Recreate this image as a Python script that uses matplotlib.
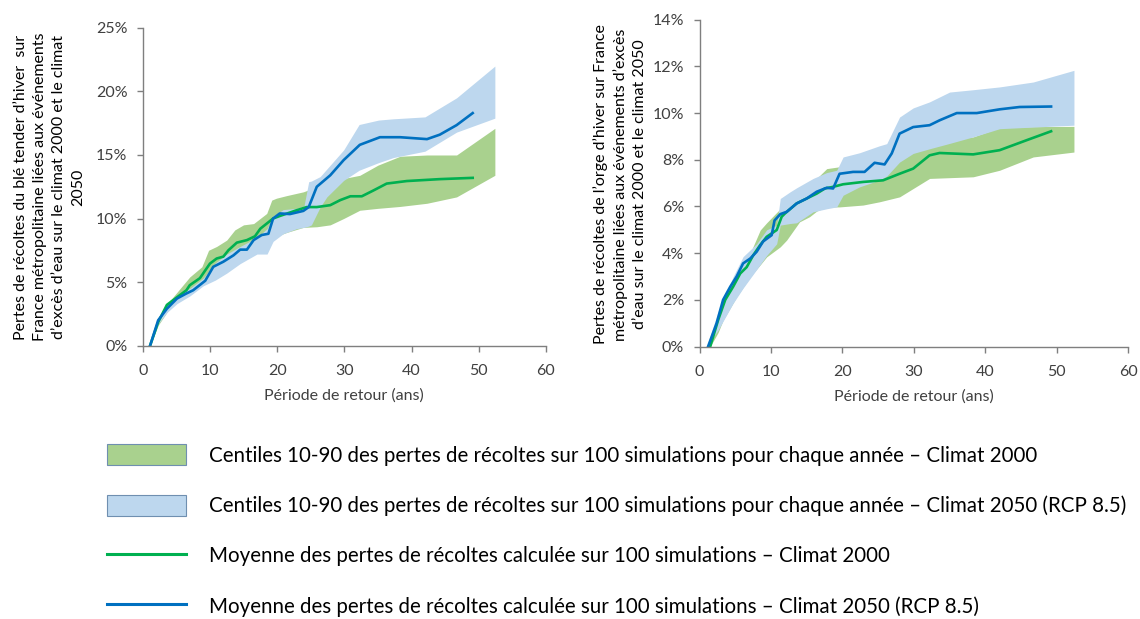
import matplotlib
matplotlib.use("Agg")
import matplotlib.pyplot as plt
from matplotlib.patches import Patch
from matplotlib.lines import Line2D
from matplotlib.ticker import FuncFormatter

plt.rcParams["font.family"] = ["Lato", "DejaVu Sans"]

# ── data: blé tendre d'hiver (left panel) ──────────────────────────────────────
ble_x_2000 = [1.1, 2.3, 3.6, 5.1, 6.5, 7.0, 8.5, 10.0, 11.0, 12.0, 12.75, 14.0, 15.5, 16.7,
              17.5, 18.45, 19.4, 20.4, 22.9, 24.4, 25.9, 27.9, 29.4, 30.9, 32.6, 34.3,
              36.3, 39.3, 44.2, 49.1]
ble_moy_2000 = [0.0, 1.85, 3.2, 3.8, 4.35, 4.75, 5.3, 6.45, 6.85, 7.0, 7.5, 8.1, 8.3, 8.6,
                9.2, 9.6, 10.0, 10.2, 10.65, 10.9, 10.9, 11.05, 11.45, 11.75, 11.75, 12.2,
                12.75, 12.95, 13.1, 13.2]
ble_x_2050 = [1.1, 2.3, 3.6, 5.1, 6.5, 7.5, 9.3, 10.5, 12.0, 13.5, 14.5, 15.5, 16.5, 17.7,
              18.7, 19.4, 20.4, 21.9, 23.9, 24.7, 25.9, 27.9, 29.9, 32.3, 35.3, 38.3,
              42.3, 44.2, 46.7, 49.1]
ble_moy_2050 = [0.0, 1.99, 2.9, 3.7, 4.1, 4.35, 5.1, 6.2, 6.6, 7.1, 7.55, 7.55, 8.3, 8.7,
                8.8, 10.0, 10.4, 10.35, 10.6, 10.9, 12.5, 13.4, 14.6, 15.8, 16.4, 16.4,
                16.25, 16.6, 17.35, 18.3]

ble_band_x_2000 = [1.1, 2.3, 4.1, 7.0, 8.8, 9.8, 11.0, 12.5, 13.7, 15.0, 16.5, 18.45, 19.2,
                   19.9, 21.4, 23.9, 25.9, 27.9, 29.9, 32.3, 35.0, 38.3, 42.3, 46.7, 52.4]
ble_p90_2000 = [0.0, 2.0, 3.56, 5.4, 6.2, 7.5, 7.8, 8.3, 9.1, 9.5, 9.6, 10.4, 11.45,
                11.6, 11.8, 12.1, 12.5, 12.9, 13.15, 13.4, 14.2, 14.9, 15.0, 15.0, 17.1]
ble_p10_2000 = [0.0, 1.6, 3.0, 4.4, 5.0, 5.5, 5.9, 6.2, 6.6, 6.9, 7.3, 8.05, 8.3,
                8.6, 8.9, 9.3, 9.35, 9.5, 10.0, 10.65, 10.8, 10.95, 11.2, 11.7, 13.4]

ble_band_x_2050 = [1.1, 2.3, 3.6, 5.1, 7.0, 9.0, 10.8, 12.5, 14.5, 17.0, 18.5, 19.4, 20.9,
                   22.9, 24.0, 24.7, 25.1, 26.4, 27.4, 29.9, 32.2, 35.1, 37.3, 42.0, 46.7, 52.4]
ble_p90_2050 = [0.0, 2.1, 3.0, 3.9, 4.5, 5.3, 6.5, 7.2, 7.8, 8.5, 9.2, 10.2, 10.7,
                10.8, 11.0, 12.9, 12.95, 13.3, 13.9, 15.4, 17.4, 17.75, 17.85, 18.0, 19.5, 22.0]
ble_p10_2050 = [0.0, 1.7, 2.6, 3.3, 3.9, 4.7, 5.15, 5.7, 6.45, 7.2, 7.2, 8.2, 8.8,
                9.2, 9.3, 9.4, 9.5, 10.9, 11.7, 13.0, 13.8, 14.4, 14.8, 15.3, 16.8, 17.9]

# ── data: orge d'hiver (right panel) ───────────────────────────────────────────
orge_x_2000 = [1.5, 2.6, 3.6, 4.7, 5.7, 6.6, 7.5, 8.5, 9.4, 10.8, 11.5, 11.96, 13.6, 15.0,
               16.4, 17.55, 18.7, 20.1, 22.9, 25.7, 28.0, 29.9, 32.2, 33.6, 38.3, 42.0,
               45.8, 49.2]
orge_moy_2000 = [0.0, 1.13, 2.0, 2.56, 3.13, 3.4, 3.9, 4.35, 4.7, 4.99, 5.56, 5.7, 6.13, 6.34,
                 6.55, 6.77, 6.84, 6.95, 7.05, 7.12, 7.4, 7.62, 8.19, 8.29, 8.23, 8.41,
                 8.84, 9.22]
orge_x_2050 = [1.2, 2.4, 3.3, 4.3, 5.2, 6.1, 7.1, 8.0, 8.9, 10.1, 10.5, 11.3, 12.2, 13.6,
               15.0, 16.4, 17.8, 18.7, 19.6, 21.5, 23.1, 24.5, 25.9, 26.9, 28.0, 29.9,
               32.2, 33.6, 36.0, 38.8, 42.0, 44.8, 49.2]
orge_moy_2050 = [0.0, 1.0, 2.0, 2.56, 3.0, 3.56, 3.77, 4.06, 4.5, 4.77, 5.4, 5.67, 5.77, 6.13,
                 6.34, 6.63, 6.8, 6.77, 7.4, 7.48, 7.48, 7.87, 7.8, 8.27, 9.12, 9.4,
                 9.48, 9.69, 10.0, 10.0, 10.16, 10.26, 10.28]

orge_band_x_2000 = [1.5, 2.6, 3.3, 5.2, 7.1, 8.5, 9.4, 11.3, 12.2, 14.0, 15.4, 16.4, 17.8,
                    19.6, 22.9, 25.2, 28.0, 32.2, 38.3, 42.0, 46.7, 52.4]
orge_p90_2000 = [0.0, 1.28, 2.0, 3.2, 4.0, 4.99, 5.3, 5.9, 6.2, 6.6, 6.9, 7.2, 7.62,
                 7.7, 7.8, 8.0, 8.41, 8.77, 8.98, 9.38, 9.42, 9.43]
orge_p10_2000 = [0.0, 0.6, 1.13, 2.13, 2.99, 3.5, 3.84, 4.27, 4.56, 5.34, 5.56, 5.8, 5.98,
                 5.98, 6.06, 6.2, 6.41, 7.2, 7.27, 7.55, 8.12, 8.33]

orge_band_x_2050 = [1.0, 2.6, 4.7, 6.1, 8.0, 9.4, 10.8, 11.3, 12.7, 13.6, 15.9, 17.8, 19.2,
                    20.1, 22.4, 25.2, 26.2, 28.0, 29.9, 32.2, 35.0, 38.3, 42.0, 46.7, 52.4]
orge_p90_2050 = [0.0, 1.5, 2.99, 3.85, 4.4, 5.0, 5.2, 6.34, 6.63, 6.8, 7.2, 7.45, 7.55,
                 8.12, 8.3, 8.6, 8.69, 9.83, 10.22, 10.48, 10.9, 11.0, 11.12, 11.33, 11.83]
orge_p10_2050 = [0.0, 0.7, 1.85, 2.5, 3.3, 3.9, 4.4, 5.2, 5.27, 5.3, 5.77, 5.9, 5.98,
                 6.48, 6.84, 7.13, 7.3, 7.9, 8.27, 8.47, 8.7, 8.98, 9.33, 9.4, 9.48]

ylabel_ble = ("Pertes de récoltes du blé tender d’hiver  sur\n"
              "France métropolitaine liées aux événements\n"
              "d’excès d’eau sur le climat 2000 et le climat\n"
              "2050")
ylabel_orge = ("Pertes de récoltes de l’orge d’hiver sur France\n"
               "métropolitaine liées aux événements d’excès\n"
               "d’eau sur le climat 2000 et le climat 2050")
xlabel = "Période de retour (ans)"

legend_labels = [
    "Centiles 10-90 des pertes de récoltes sur 100 simulations pour chaque année – Climat 2000",
    "Centiles 10-90 des pertes de récoltes sur 100 simulations pour chaque année – Climat 2050 (RCP 8.5)",
    "Moyenne des pertes de récoltes calculée sur 100 simulations – Climat 2000",
    "Moyenne des pertes de récoltes calculée sur 100 simulations – Climat 2050 (RCP 8.5)",
]

GREEN_FILL = "#A9D18E"
BLUE_FILL = "#BDD7EE"
GREEN_LINE = "#00B050"
BLUE_LINE = "#0070C0"
AXIS_GREY = "#7f7f7f"
TEXT_GREY = "#404040"


def draw_panel(ax, bx00, lo00, hi00, bx50, lo50, hi50, x00, m00, x50, m50, ymax, ystep):
    ax.fill_between(bx00, lo00, hi00, color=GREEN_FILL, lw=0)
    ax.fill_between(bx50, lo50, hi50, color=BLUE_FILL, lw=0)
    ax.plot(x00, m00, color=GREEN_LINE, lw=1.9, solid_joinstyle="round")
    ax.plot(x50, m50, color=BLUE_LINE, lw=1.9, solid_joinstyle="round")
    ax.set_xlim(0, 60)
    ax.set_ylim(0, ymax)
    ax.set_xticks(range(0, 61, 10))
    ax.set_yticks(range(0, ymax + 1, ystep))
    ax.yaxis.set_major_formatter(FuncFormatter(lambda v, _: f"{v:.0f}%"))
    for s in ("top", "right"):
        ax.spines[s].set_visible(False)
    for s in ("left", "bottom"):
        ax.spines[s].set_color(AXIS_GREY)
        ax.spines[s].set_linewidth(1.0)
    ax.tick_params(direction="out", length=4, width=1.0, color=AXIS_GREY,
                   labelsize=11.5, labelcolor=TEXT_GREY, pad=7)
    ax.tick_params(axis="x", pad=9)
    ax.set_xlabel(xlabel, fontsize=11.5, color=TEXT_GREY, labelpad=8)


fig = plt.figure(figsize=(11.4, 6.19), dpi=100)

ax1 = fig.add_axes([0.1252, 0.4418, 0.3537, 0.5130])
draw_panel(ax1, ble_band_x_2000, ble_p10_2000, ble_p90_2000,
           ble_band_x_2050, ble_p10_2050, ble_p90_2050,
           ble_x_2000, ble_moy_2000, ble_x_2050, ble_moy_2050, 25, 5)

ax2 = fig.add_axes([0.6136, 0.4402, 0.3761, 0.5280])
draw_panel(ax2, orge_band_x_2000, orge_p10_2000, orge_p90_2000,
           orge_band_x_2050, orge_p10_2050, orge_p90_2050,
           orge_x_2000, orge_moy_2000, orge_x_2050, orge_moy_2050, 14, 2)

fig.text(0.0435, 0.698, ylabel_ble, rotation=90, ha="center", va="center",
         ma="center", fontsize=11.5, color="black", linespacing=1.45)
fig.text(0.544, 0.702, ylabel_orge, rotation=90, ha="center", va="center",
         ma="center", fontsize=11.5, color="black", linespacing=1.45)

handles = [
    Patch(facecolor=GREEN_FILL, edgecolor="#6f8fb0", linewidth=0.8),
    Patch(facecolor=BLUE_FILL, edgecolor="#6f8fb0", linewidth=0.8),
    Line2D([], [], color=GREEN_LINE, lw=2.2),
    Line2D([], [], color=BLUE_LINE, lw=2.2),
]
fig.legend(handles, legend_labels, loc="upper left", bbox_to_anchor=(0.094, 0.2826),
           frameon=False, fontsize=14.8, handlelength=3.85, handleheight=1.2,
           handletextpad=1.1, labelspacing=1.41, borderpad=0, borderaxespad=0)

fig.savefig("out.png", dpi=100)
